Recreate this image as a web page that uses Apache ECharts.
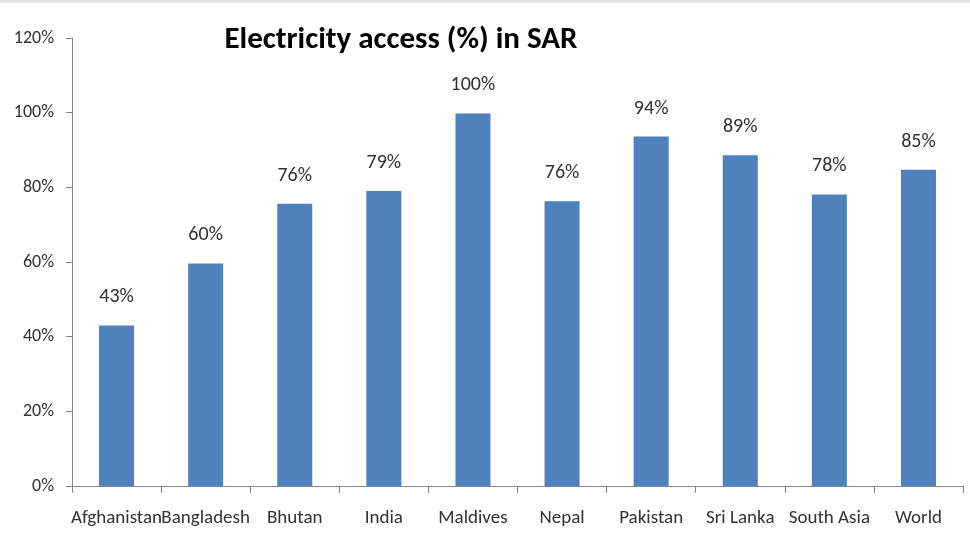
<!DOCTYPE html>
<html>
<head>
<meta charset="utf-8">
<script src="https://cdn.jsdelivr.net/npm/echarts@6/dist/echarts.min.js"></script>
<style>
html,body{margin:0;padding:0;background:#fff;}
#chart{width:970px;height:551px;}
</style>
</head>
<body>
<div id="chart"></div>
<script>
var categories = ['Afghanistan','Bangladesh','Bhutan','India','Maldives','Nepal','Pakistan','Sri Lanka','South Asia','World'];
var accessValues = [43, 59.6, 75.6, 79, 99.8, 76.3, 93.6, 88.6, 78.1, 84.7];
var yTicks = [0, 20, 40, 60, 80, 100, 120];
var titleText = 'Electricity access (%) in SAR';

var narrow = 'Calibri, Carlito, "Liberation Sans Narrow", sans-serif';
var chart = echarts.init(document.getElementById('chart'));
chart.setOption({
  backgroundColor: '#ffffff',
  animation: false,
  graphic: [{
    type: 'rect', left: 0, top: 0, shape: {width: 970, height: 3},
    style: {fill: '#e4e4e4'}, silent: true
  }],
  title: {
    text: titleText,
    left: 396, top: 20, textAlign: 'center',
    textStyle: {fontFamily: narrow, fontWeight: 'bold', fontSize: 31, color: '#000'}
  },
  grid: {left: 72, right: 7, top: 38, bottom: 65, containLabel: false},
  xAxis: {
    type: 'category',
    data: categories,
    axisLine: {lineStyle: {color: '#868686', width: 1}},
    axisTick: {show: true, length: 7, lineStyle: {color: '#868686'}},
    axisLabel: {fontFamily: narrow, fontSize: 19, color: '#333333', margin: 23, interval: 0}
  },
  yAxis: {
    type: 'value',
    min: yTicks[0], max: yTicks[yTicks.length - 1], interval: 20,
    axisLine: {show: true, lineStyle: {color: '#868686', width: 1}},
    axisTick: {show: true, length: 6, lineStyle: {color: '#868686'}},
    splitLine: {show: false},
    axisLabel: {fontFamily: narrow, fontSize: 18, color: '#333333', margin: 18,
      formatter: function (v) { return v + '%'; }}
  },
  series: [{
    type: 'bar',
    data: accessValues,
    barWidth: 35,
    itemStyle: {color: '#4F81BD'},
    label: {
      show: true, position: 'top', distance: 18,
      fontFamily: narrow, fontSize: 20, color: '#333333',
      formatter: function (p) { return Math.round(p.value) + '%'; }
    }
  }]
});
</script>
</body>
</html>
